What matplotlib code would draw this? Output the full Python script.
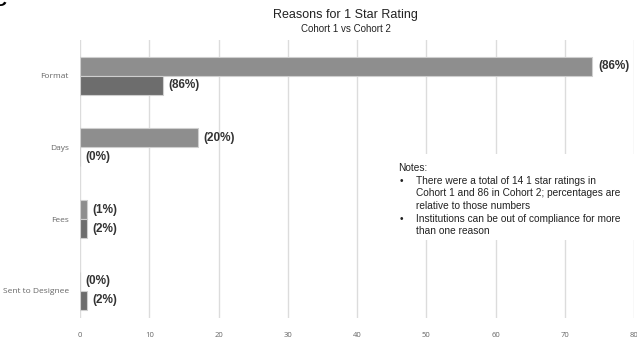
import matplotlib.pyplot as plt
import numpy as np

categories = ["Format", "Days", "Fees", "Sent to Designee"]
cohort1 = [74, 17, 1, 0]
cohort2 = [12, 0, 1, 1]
labels1 = ["(86%)", "(20%)", "(1%)", "(0%)"]
labels2 = ["(86%)", "(0%)", "(2%)", "(2%)"]
xticks = [0, 10, 20, 30, 40, 50, 60, 70, 80]

bullets = [
    ["There were a total of 14 1 star ratings in",
     "Cohort 1 and 86 in Cohort 2; percentages are",
     "relative to those numbers"],
    ["Institutions can be out of compliance for more",
     "than one reason"],
]

plt.rcParams["font.family"] = ["Liberation Sans", "DejaVu Sans"]

fig = plt.figure(figsize=(6.37, 3.43), dpi=100)
ax = fig.add_axes([80 / 637, 1 - 318 / 343, 554 / 637, 278 / 343])

y = np.arange(len(categories))
h = 0.265
b1 = ax.barh(y - h / 2, cohort1, height=h, color="#8e8e8e", edgecolor="#cfcfcf", linewidth=0.8, zorder=3)
b2 = ax.barh(y + h / 2, cohort2, height=h, color="#6d6d6d", edgecolor="#cfcfcf", linewidth=0.8, zorder=3)

for bars, labs in ((b1, labels1), (b2, labels2)):
    for bar, lab in zip(bars, labs):
        ax.annotate(lab, (bar.get_width(), bar.get_y() + bar.get_height() / 2),
                    xytext=(4, 0), textcoords="offset points", ha="left", va="center",
                    fontsize=8.5, fontweight="bold", color="#333333", zorder=4)

ax.set_xlim(0, 80)
ax.set_ylim(3.38, -0.5)
ax.set_xticks(xticks)
ax.set_yticks(y)
ax.set_yticklabels(categories, fontsize=6, color="#666666", family=["Open Sans", "DejaVu Sans"])
ax.set_xticklabels([str(t) for t in xticks], fontsize=5.5, color="#666666", family=["Open Sans", "DejaVu Sans"])
ax.tick_params(length=0, pad=8)
ax.tick_params(axis="x", pad=10)
ax.grid(axis="x", color="#dcdcdc", linewidth=1, zorder=0)
for s in ax.spines.values():
    s.set_visible(False)

fig.text(345.5 / 637, 1 - 15 / 343, "Reasons for 1 Star Rating", ha="center", va="center",
         fontsize=9, color="#222222")
fig.text(345.5 / 637, 1 - 29 / 343, "Cohort 1 vs Cohort 2", ha="center", va="center",
         fontsize=7, color="#222222")

# notes block (white patch hides the gridlines behind it)
fig.patches.append(plt.Rectangle((394 / 637, 1 - 240 / 343), 240 / 637, 86 / 343,
                                 transform=fig.transFigure, facecolor="white", edgecolor="none", zorder=2))
fs = 7.3
step = 12.5
fig.text(398 / 637, 1 - 171 / 343, "Notes:", ha="left", va="baseline", fontsize=fs, color="#222222")
base = 184
for lines in bullets:
    fig.text(400 / 637, 1 - base / 343, "\u2022", ha="left", va="baseline", fontsize=fs, color="#222222")
    for ln in lines:
        fig.text(416 / 637, 1 - base / 343, ln, ha="left", va="baseline", fontsize=fs, color="#222222")
        base += step

# cropped panel letter in the corner
fig.text(-0.012, 1.02, "C", ha="left", va="top", fontsize=14, fontweight="bold", color="black")

fig.savefig("out.png", dpi=100, facecolor="white")
